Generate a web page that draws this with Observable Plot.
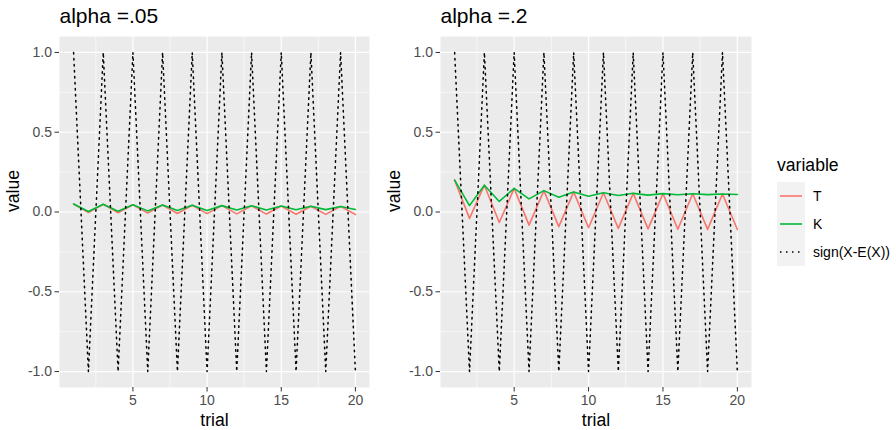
<!DOCTYPE html>
<html>
<head>
<meta charset="utf-8">
<script src="https://cdn.jsdelivr.net/npm/d3@7"></script>
<script src="https://cdn.jsdelivr.net/npm/@observablehq/plot@0.6"></script>
<style>
  body { margin: 0; background: #fff; }
  #wrap { position: relative; width: 896px; height: 430px; font-family: "Liberation Sans", Arial, sans-serif; }
  #wrap svg { font-family: "Liberation Sans", Arial, sans-serif; }
  .panel { position: absolute; top: 0; }
  #legend { position: absolute; left: 777px; top: 150px; }
</style>
</head>
<body>
<div id="wrap">
  <div class="panel" id="p1" style="left:0px"></div>
  <div class="panel" id="p2" style="left:380px"></div>
  <div id="legend"></div>
</div>
<script>
// ---- data ----
const trials = [1,2,3,4,5,6,7,8,9,10,11,12,13,14,15,16,17,18,19,20];
const signX  = [1,-1,1,-1,1,-1,1,-1,1,-1,1,-1,1,-1,1,-1,1,-1,1,-1];
const T_05 = [0.050,-0.003,0.048,-0.005,0.045,-0.007,0.044,-0.009,0.042,-0.010,0.040,-0.012,0.039,-0.013,0.038,-0.014,0.036,-0.015,0.035,-0.016];
const K_05 = [0.050,0.003,0.048,0.005,0.045,0.007,0.044,0.009,0.042,0.010,0.040,0.012,0.039,0.013,0.038,0.014,0.036,0.015,0.035,0.016];
const T_2  = [0.200,-0.040,0.168,-0.066,0.148,-0.082,0.134,-0.092,0.126,-0.099,0.121,-0.103,0.117,-0.106,0.115,-0.108,0.114,-0.109,0.113,-0.110];
const K_2  = [0.200,0.040,0.168,0.066,0.148,0.082,0.134,0.092,0.126,0.099,0.121,0.103,0.117,0.106,0.115,0.108,0.114,0.109,0.113,0.110];
const panelTitles = ["alpha =.05", "alpha =.2"];
const variables = ["T", "K", "sign(X-E(X))"];
const colors = ["#F8766D", "#00BA38", "#000000"];
const xTicks = [5, 10, 15, 20];
const xMinor = [2.5, 7.5, 12.5, 17.5];
const yTicks = [-1, -0.5, 0, 0.5, 1];
const yMinor = [-0.75, -0.25, 0.25, 0.75];

function rows(T, K) {
  const out = [];
  trials.forEach((t, i) => out.push({trial: t, value: T[i], variable: "T"}));
  trials.forEach((t, i) => out.push({trial: t, value: K[i], variable: "K"}));
  trials.forEach((t, i) => out.push({trial: t, value: signX[i], variable: "sign(X-E(X))"}));
  return out;
}

function panel(title, T, K, width, ml, mr) {
  const data = rows(T, K);
  return Plot.plot({
    width, height: 430,
    marginLeft: ml, marginRight: mr, marginTop: 36, marginBottom: 43,
    style: {fontSize: "14px", color: "#4D4D4D", background: "transparent"},
    x: {domain: [0.05, 20.95], ticks: xTicks, tickSize: 4.5, tickPadding: 3, label: null},
    y: {domain: [-1.1, 1.1], ticks: yTicks, tickSize: 4.5, tickPadding: 3, label: null, tickFormat: d => d.toFixed(1)},
    color: {domain: variables, range: colors},
    marks: [
      Plot.frame({fill: "#EBEBEB", stroke: null}),
      Plot.ruleX(xMinor, {stroke: "#fff", strokeWidth: 0.6}),
      Plot.ruleY(yMinor, {stroke: "#fff", strokeWidth: 0.6}),
      Plot.ruleX(xTicks, {stroke: "#fff", strokeWidth: 1.2}),
      Plot.ruleY(yTicks, {stroke: "#fff", strokeWidth: 1.2}),
      Plot.axisX({ticks: xTicks, tickSize: 4.5, tickPadding: 3, stroke: "#333", fill: "#4D4D4D", label: null}),
      Plot.axisY({ticks: yTicks, tickSize: 4.5, tickPadding: 3, stroke: "#333", fill: "#4D4D4D", label: null, tickFormat: d => d.toFixed(1)}),
      Plot.line(data.filter(d => d.variable === "T"), {x: "trial", y: "value", stroke: "variable", strokeWidth: 1.6}),
      Plot.line(data.filter(d => d.variable === "K"), {x: "trial", y: "value", stroke: "variable", strokeWidth: 1.6}),
      Plot.line(data.filter(d => d.variable === "sign(X-E(X))"), {x: "trial", y: "value", stroke: "variable", strokeWidth: 1.5, strokeDasharray: "1.5 4.5"}),
      Plot.text([title], {frameAnchor: "top-left", dy: -20, textAnchor: "start", lineAnchor: "middle", fontSize: 21, fill: "#000"}),
      Plot.text(["trial"], {frameAnchor: "bottom", dy: 33, lineAnchor: "middle", fontSize: 17.6, fill: "#000"}),
      Plot.text(["value"], {frameAnchor: "left", dx: -46, rotate: -90, lineAnchor: "middle", fontSize: 17.6, fill: "#000"})
    ]
  });
}

document.getElementById("p1").append(panel(panelTitles[0], T_05, K_05, 380, 59, 11));
document.getElementById("p2").append(panel(panelTitles[1], T_2, K_2, 390, 60, 19));

// legend
const lg = d3.select("#legend").append("svg").attr("width", 119).attr("height", 130)
  .style("font-family", '"Liberation Sans", Arial, sans-serif');
lg.append("text").attr("x", 0).attr("y", 15).attr("dy", "0.35em").attr("font-size", 17.6).attr("fill", "#000").text("variable");
lg.append("rect").attr("x", 0).attr("y", 32).attr("width", 28).attr("height", 84).attr("fill", "#F2F2F2");
variables.forEach((v, i) => {
  const cy = 46 + i * 28;
  lg.append("line").attr("x1", 3).attr("x2", 25).attr("y1", cy).attr("y2", cy)
    .attr("stroke", colors[i]).attr("stroke-width", i === 2 ? 1.5 : 1.6)
    .attr("stroke-dasharray", i === 2 ? "1.5 4.5" : null);
  lg.append("text").attr("x", 36).attr("y", cy).attr("dy", "0.35em").attr("font-size", 14).attr("fill", "#000").text(v);
});
</script>
</body>
</html>
